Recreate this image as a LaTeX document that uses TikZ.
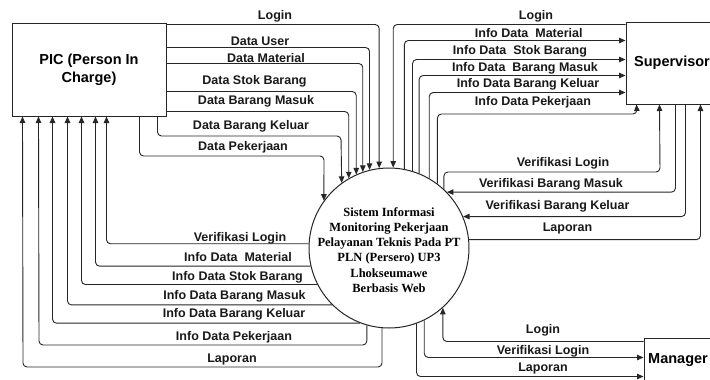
\documentclass[tikz,border=0pt]{standalone}
\usepackage{fontspec}
\setmainfont{Liberation Sans}
\newfontfamily\procfont{Liberation Serif}
\usetikzlibrary{arrows.meta}

\tikzset{
  entity/.style={draw=black!85, line width=1pt, fill=white,
    font=\bfseries\fontsize{14.5}{18}\selectfont, align=center, inner sep=0pt},
  process/.style={circle, draw=black!85, line width=1pt, fill=white,
    inner sep=0pt, minimum size=160pt},
  proctext/.style={font=\procfont\bfseries\fontsize{12.5}{15.2}\selectfont,
    align=center, inner sep=0pt},
  flow/.style={draw=black!85, line width=0.9pt, rounded corners=4pt,
    -{Triangle[length=6.5pt,width=5.5pt]}},
  lbl/.style={font=\bfseries\fontsize{12.5}{14}\selectfont, text=black!90, inner sep=0pt},
}

\begin{document}
\begin{tikzpicture}[x=1pt,y=-1pt]
\useasboundingbox (0,0) rectangle (710,380);
\fill[white] (0,0) rectangle (710,380);
\clip (0,0) rectangle (710,380);

% external entities and the process
\node[entity, minimum width=154pt, minimum height=93pt] (pic) at (89,69.5) {PIC (Person In\\Charge)};
\node[entity, minimum width=92pt, minimum height=82pt] (sup) at (672,63) {Supervisor};
\node[entity, minimum width=68pt, minimum height=44pt] (mgr) at (678,360) {Manager};
\node[process] (proc) at (389,248) {};
\node[proctext] (proclbl) at (389,250) {Sistem Informasi\\Monitoring Pekerjaan\\Pelayanan Teknis Pada PT\\PLN (Persero) UP3\\Lhokseumawe\\Berbasis Web};

% PIC -> process
\draw[flow] ([yshift=-2pt]pic.north east) -| (proc.97.9);
\draw[flow] ([yshift=-25pt]pic.north east) -| (proc.104.5);
\draw[flow] ([yshift=-41pt]pic.north east) -| (proc.109.7);
\draw[flow] ([yshift=-69pt]pic.north east) -| (proc.114.4);
\draw[flow] ([yshift=-89pt]pic.north east) -| (proc.120);
\draw[flow] ([xshift=-9pt]pic.south east) |- (341,136) -- (proc.126.9);
\draw[flow] ([xshift=-27pt]pic.south east) |- (324,156) -- (proc.144.3);

\node[lbl] (l-p-login) at (275,16) {Login};
\node[lbl] (l-p-user) at (260,41) {Data User};
\node[lbl] (l-p-mat) at (266,58) {Data Material};
\node[lbl] (l-p-stok) at (254.5,81) {Data Stok Barang};
\node[lbl] (l-p-masuk) at (256,101) {Data Barang Masuk};
\node[lbl] (l-p-keluar) at (251,126) {Data Barang Keluar};
\node[lbl] (l-p-pek) at (243,147) {Data Pekerjaan};

% process -> PIC
\draw[flow] (proc.177.9) -| ([xshift=95pt]pic.south west);
\draw[flow] (proc.193) -| ([xshift=84pt]pic.south west);
\draw[flow] (proc.207.5) -| ([xshift=70pt]pic.south west);
\draw[flow] (proc.225.4) -| ([xshift=56pt]pic.south west);
\draw[flow] (proc.249.6) -| ([xshift=41pt]pic.south west);
\draw[flow] (proc.254) |- (39,345) -- ([xshift=27pt]pic.south west);
\draw[flow] (proc.265) |- (23,367) -- ([xshift=11pt]pic.south west);

\node[lbl] (l-q-verif) at (240,238) {Verifikasi Login};
\node[lbl] (l-q-mat) at (238,257) {Info Data\ \ Material};
\node[lbl] (l-q-stok) at (237.5,277) {Info Data Stok Barang};
\node[lbl] (l-q-masuk) at (234.5,296) {Info Data Barang Masuk};
\node[lbl] (l-q-keluar) at (234,314) {Info Data Barang Keluar};
\node[lbl] (l-q-pek) at (234,337) {Info Data Pekerjaan};
\node[lbl] (l-q-lap) at (232,359) {Laporan};

% Supervisor <-> process
\draw[flow] ([yshift=-3pt]sup.north west) -| (proc.87.9);
\draw[flow] (proc.79.2) |- ([yshift=-19pt]sup.north west);
\draw[flow] (proc.73.3) |- ([yshift=-38pt]sup.north west);
\draw[flow] (proc.68) |- ([yshift=-54pt]sup.north west);
\draw[flow] (proc.60) |- ([yshift=-71pt]sup.north west);
\draw[flow] (proc.53.1) |- (637,114) -- ([xshift=11pt]sup.south west);
\draw[flow] (proc.47.5) |- (660,172) -- ([xshift=34pt]sup.south west);
\draw[flow] ([xshift=50pt]sup.south west) |- (proc.44.4);
\draw[flow] ([xshift=60pt]sup.south west) |- (proc.23.6);
\draw[flow] (proc.6.5) -| ([xshift=75pt]sup.south west);

\node[lbl] (l-s-login) at (536,16) {Login};
\node[lbl] (l-s-mat) at (528.8,33) {Info Data\ \ Material};
\node[lbl] (l-s-stok) at (520,51) {Info Data\ \ Stok Barang};
\node[lbl] (l-s-masuk) at (525,68) {Info Data\ \ Barang Masuk};
\node[lbl] (l-s-keluar) at (528,84) {Info Data Barang Keluar};
\node[lbl] (l-s-pek) at (533,102) {Info Data Pekerjaan};
\node[lbl] (l-s-verif) at (563,163) {Verifikasi Login};
\node[lbl] (l-s-vmasuk) at (551,184) {Verifikasi Barang Masuk};
\node[lbl] (l-s-vkeluar) at (557.5,206) {Verifikasi Barang Keluar};
\node[lbl] (l-s-lap) at (567.5,228) {Laporan};

% Manager <-> process
\draw[flow] ([yshift=-4pt]mgr.north west) -| (proc.312.5);
\draw[flow] (proc.296.7) |- ([yshift=-20pt]mgr.north west);
\draw[flow] (proc.290.5) |- ([yshift=-39pt]mgr.north west);

\node[lbl] (l-m-login) at (543,330) {Login};
\node[lbl] (l-m-verif) at (543,351) {Verifikasi Login};
\node[lbl] (l-m-lap) at (543,368) {Laporan};
\end{tikzpicture}
\end{document}
